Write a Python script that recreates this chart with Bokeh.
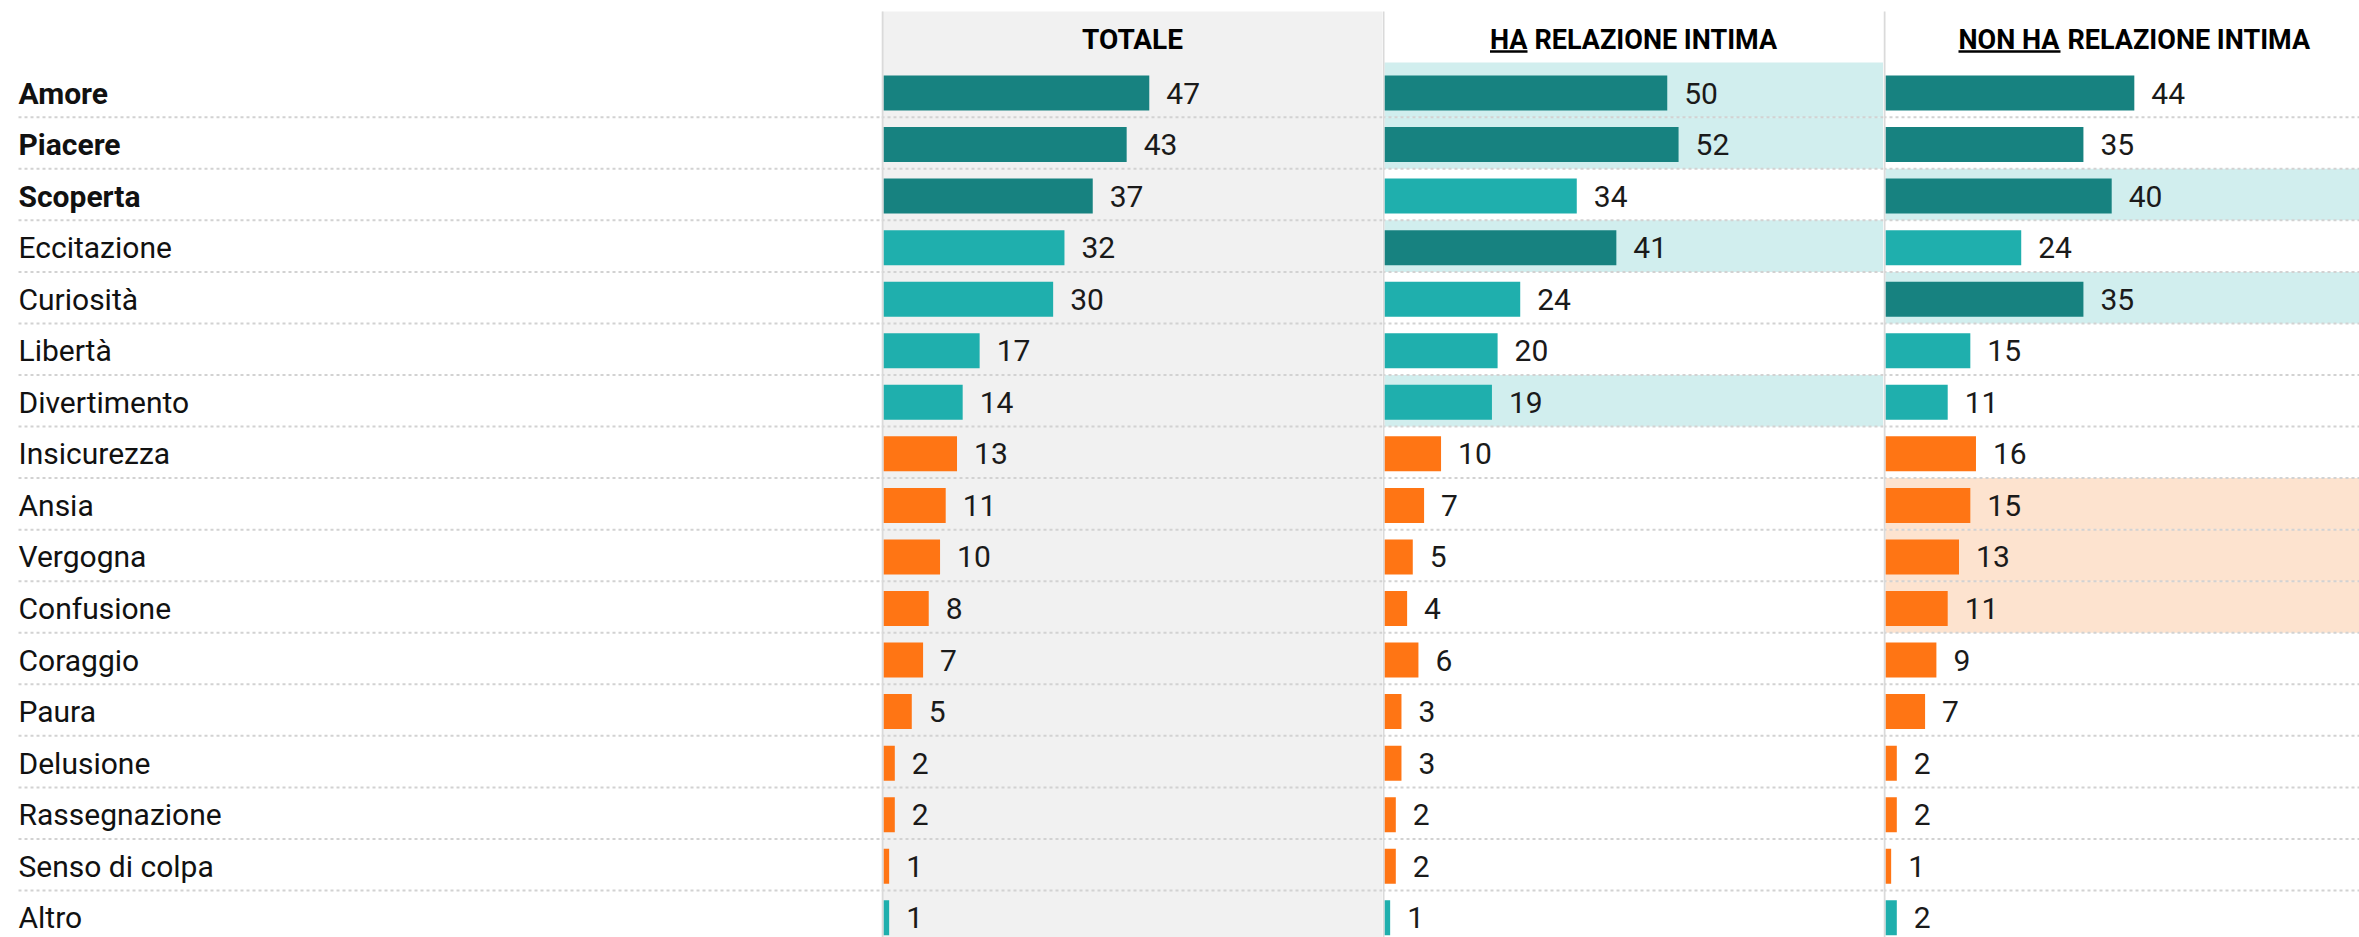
from bokeh.plotting import figure
from bokeh.models import Range1d, ColumnDataSource
from bokeh.layouts import row
from bokeh.core.properties import value
from bokeh.embed import file_html
from bokeh.resources import INLINE

# ---------------- data ----------------
categories = ["Amore", "Piacere", "Scoperta", "Eccitazione", "Curiosità", "Libertà",
              "Divertimento", "Insicurezza", "Ansia", "Vergogna", "Confusione", "Coraggio",
              "Paura", "Delusione", "Rassegnazione", "Senso di colpa", "Altro"]
totale = [47, 43, 37, 32, 30, 17, 14, 13, 11, 10, 8, 7, 5, 2, 2, 1, 1]
ha_relazione = [50, 52, 34, 41, 24, 20, 19, 10, 7, 5, 4, 6, 3, 3, 2, 2, 1]
non_ha_relazione = [44, 35, 40, 24, 35, 15, 11, 16, 15, 13, 11, 9, 7, 2, 2, 1, 2]
negative = ["Insicurezza", "Ansia", "Vergogna", "Confusione", "Coraggio", "Paura",
            "Delusione", "Rassegnazione", "Senso di colpa"]
bold_labels = ["Amore", "Piacere", "Scoperta"]
hl_ha_pos = ["Amore", "Piacere", "Eccitazione", "Divertimento"]
hl_non_pos = ["Scoperta", "Curiosità"]
hl_non_neg = ["Ansia", "Vergogna", "Confusione"]

# ---------------- style ----------------
DARK = "#178280"
TEAL = "#1FAFAD"
ORANGE = "#FF7514"
BAND_BLUE = "#D1EEEE"
BAND_ORANGE = "#FDE3CF"
GREY = "#F1F1F1"
BORDER = "#DADADA"
SEP = "#D2D2D2"
FONT = "Roboto"

H = 937
ROW_PX = 51.55
ROW0 = 92.5            # px from figure top to centre of first row
PX = 5.655             # px per percentage point
X0 = 2                 # px from panel edge to bar origin
Y_TOP = -ROW0 / ROW_PX
Y_BOT = (H - ROW0) / ROW_PX
def ypx(px):  # px from figure top -> data y
    return (px - ROW0) / ROW_PX

n = len(categories)
ys = list(range(n))
SEP_OFF = 0.47
sep_y = [i + SEP_OFF for i in range(n - 1)]


def base_fig(w, xr):
    p = figure(width=w, height=H, x_range=xr, y_range=Range1d(Y_BOT, Y_TOP),
               output_backend="svg", toolbar_location=None, title=None,
               min_border=0, outline_line_color=None)
    p.axis.visible = False
    p.grid.visible = False
    p.background_fill_color = "white"
    return p


# ---------------- label column ----------------
LW = 881
pl = base_fig(LW, Range1d(0, LW))
pl.segment(x0=[18] * len(sep_y), x1=[LW] * len(sep_y), y0=sep_y, y1=sep_y,
           line_color=SEP, line_width=2, line_dash="3 3")
src_l = ColumnDataSource(dict(
    x=[18] * n, y=ys, t=categories,
    st=["bold" if c in bold_labels else "normal" for c in categories]))
pl.text(x="x", y="y", text="t", source=src_l, text_font=value(FONT),
        text_font_size="30px", text_font_style="st", text_align="left",
        text_baseline="middle", text_color="#111111")


def panel(w, vals, title_parts, bands, grey_bg):
    xr = Range1d(-X0 / PX, (w - X0) / PX)
    p = base_fig(w, xr)
    left, right = -X0 / PX, (w - X0) / PX
    top = ypx(11)
    if grey_bg:
        p.quad(left=left, right=right, top=top, bottom=Y_BOT + 1, fill_color=GREY,
               line_color=None)
    # highlight bands
    for names, col in bands:
        idx = [categories.index(c) for c in names]
        tops = [(-0.59 if i == 0 else i - 1 + SEP_OFF) for i in idx]
        bots = [i + SEP_OFF for i in idx]
        p.quad(left=[0] * len(idx), right=[right] * len(idx), top=tops, bottom=bots,
               fill_color=col, line_color=None)
    p.segment(x0=[left] * len(sep_y), x1=[right] * len(sep_y), y0=sep_y, y1=sep_y,
              line_color=SEP, line_width=2, line_dash="3 3")
    # bar colours: top three positive values dark
    third = sorted(vals, reverse=True)[2]
    cols = []
    for c, v in zip(categories, vals):
        if c in negative:
            cols.append(ORANGE)
        elif v >= third:
            cols.append(DARK)
        else:
            cols.append(TEAL)
    src = ColumnDataSource(dict(y=ys, v=vals, c=cols, t=[str(v) for v in vals]))
    p.hbar(y="y", left=0, right="v", height=35 / ROW_PX, fill_color="c",
           line_color=None, source=src)
    p.text(x="v", y="y", text="t", source=src, x_offset=17, text_font=value(FONT),
           text_font_size="30px", text_align="left", text_baseline="middle",
           text_color="#1a1a1a")
    # panel border
    p.quad(left=left, right=0, top=top, bottom=Y_BOT + 1, fill_color=BORDER,
           line_color=None)
    # header
    hy = ypx(39)
    under, rest, w_under, w_total, fs = title_parts
    cx = (251 - X0) / PX
    start = cx - (w_total / 2) / PX
    if under:
        split = start + w_under / PX
        p.text(x=[start], y=[hy], text=[under], text_font=value(FONT),
               text_font_size=fs, text_font_style="bold", text_align="left",
               text_baseline="middle", text_color="#000000")
        p.text(x=[split + 7 / PX], y=[hy], text=[rest], text_font=value(FONT),
               text_font_size=fs, text_font_style="bold", text_align="left",
               text_baseline="middle", text_color="#000000")
        uy = ypx(51)
        p.segment(x0=[start], x1=[split], y0=[uy], y1=[uy], line_color="#000000",
                  line_width=2.5)
    else:
        p.text(x=[cx], y=[hy], text=[rest], text_font=value(FONT),
               text_font_size=fs, text_font_style="bold", text_align="center",
               text_baseline="middle", text_color="#000000")
    return p


p1 = panel(501, totale, (None, "TOTALE", 0, 0, "28px"), [], True)
p2 = panel(501, ha_relazione, ("HA", "RELAZIONE INTIMA", 37.5, 287, "27px"),
           [(hl_ha_pos, BAND_BLUE)], False)
p3 = panel(476, non_ha_relazione, ("NON HA", "RELAZIONE INTIMA", 102, 352, "27px"),
           [(hl_non_pos, BAND_BLUE), (hl_non_neg, BAND_ORANGE)], False)

layout = row(pl, p1, p2, p3)
open("out.html", "w").write(file_html(layout, INLINE))
